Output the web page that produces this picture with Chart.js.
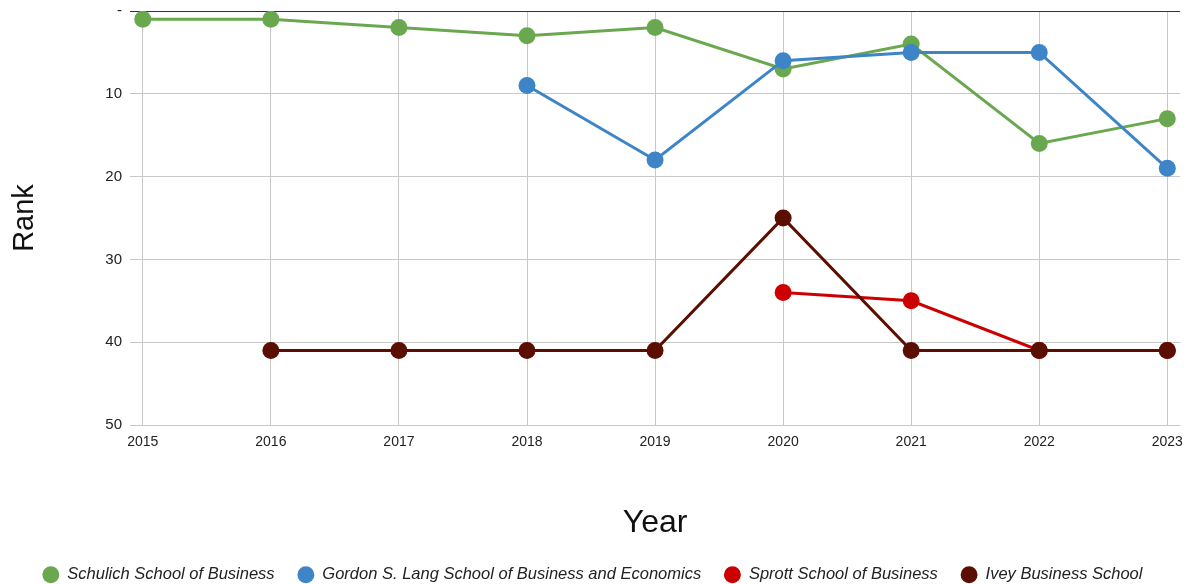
<!DOCTYPE html>
<html>
<head>
<meta charset="utf-8">
<script src="https://cdn.jsdelivr.net/npm/chart.js@4"></script>
<style>
  body { margin: 0; background: #fff; }
  #wrap { width: 1192px; height: 584px; }
</style>
</head>
<body>
<div id="wrap">
  <canvas id="rankChart" width="1192" height="584"></canvas>
</div>
<script>
// years on the x axis
const years = [2015, 2016, 2017, 2018, 2019, 2020, 2021, 2022, 2023];

// ranks per school (null = not ranked that year)
const schulich = [1, 1, 2, 3, 2, 7, 4, 16, 13];
const gordonLang = [null, null, null, 9, 18, 6, 5, 5, 19];
const sprott = [null, null, null, null, null, 34, 35, 41, 41];
const ivey = [null, 41, 41, 41, 41, 25, 41, 41, 41];

const schoolNames = [
  'Schulich School of Business',
  'Gordon S. Lang School of Business and Economics',
  'Sprott School of Business',
  'Ivey Business School'
];
const rankTicks = [0, 10, 20, 30, 40, 50];

const FONT = "'Liberation Sans', Arial, sans-serif";

function toPoints(values) {
  return years.map((y, i) => ({ x: y, y: values[i] }));
}

function makeSet(label, values, color, order) {
  return {
    label: label,
    data: toPoints(values),
    borderColor: color,
    backgroundColor: color,
    borderWidth: 3,
    pointRadius: 8.5,
    pointHoverRadius: 8.5,
    pointBorderWidth: 0,
    spanGaps: false,
    order: order // later schools are drawn on top, like the original
  };
}

const ctx = document.getElementById('rankChart').getContext('2d');
new Chart(ctx, {
  type: 'line',
  data: {
    datasets: [
      makeSet(schoolNames[0], schulich, '#6aa84f', 4),
      makeSet(schoolNames[1], gordonLang, '#3d85c6', 3),
      makeSet(schoolNames[2], sprott, '#cc0000', 2),
      makeSet(schoolNames[3], ivey, '#5b0f00', 1)
    ]
  },
  options: {
    responsive: false,
    animation: false,
    layout: { padding: { top: 11, right: 7, left: 0, bottom: -9 } },
    plugins: {
      tooltip: { enabled: false },
      legend: {
        position: 'bottom',
        labels: {
          usePointStyle: true,
          pointStyle: 'circle',
          boxHeight: 12,
          padding: 23,
          color: '#222',
          font: { family: FONT, size: 16.5, style: 'italic' },
          sort: (a, b) => a.datasetIndex - b.datasetIndex
        }
      }
    },
    scales: {
      x: {
        type: 'linear',
        min: 2014.9,
        max: 2023.1,
        afterBuildTicks: (scale) => { scale.ticks = years.map(v => ({ value: v })); },
        afterFit: (scale) => { scale.height = 118.5; },
        border: { display: false },
        grid: { color: '#c8c8c8', lineWidth: 1, drawTicks: false },
        ticks: {
          padding: 9,
          color: '#222',
          font: { family: FONT, size: 14 },
          callback: (v) => String(v)
        },
        title: {
          display: true,
          text: 'Year',
          color: '#111',
          font: { family: FONT, size: 32 },
          padding: { top: 0, bottom: 1 }
        }
      },
      y: {
        reverse: true,
        min: 0,
        max: 50,
        afterBuildTicks: (scale) => { scale.ticks = rankTicks.map(v => ({ value: v })); },
        afterFit: (scale) => {
          scale.width = 130;
          scale.paddingTop = 0;
          scale.paddingBottom = 0;
        },
        border: { display: false },
        grid: {
          color: (c) => (c.tick && c.tick.value === 0 ? '#333333' : '#c8c8c8'),
          lineWidth: 1,
          drawTicks: false
        },
        ticks: {
          padding: 8,
          color: '#222',
          font: { family: FONT, size: 15 },
          callback: (v) => (v === 0 ? '-' : String(v))
        },
        title: {
          display: true,
          text: 'Rank',
          color: '#111',
          font: { family: FONT, size: 29 },
          padding: { top: 8, bottom: 0 }
        }
      }
    }
  }
});
</script>
</body>
</html>
